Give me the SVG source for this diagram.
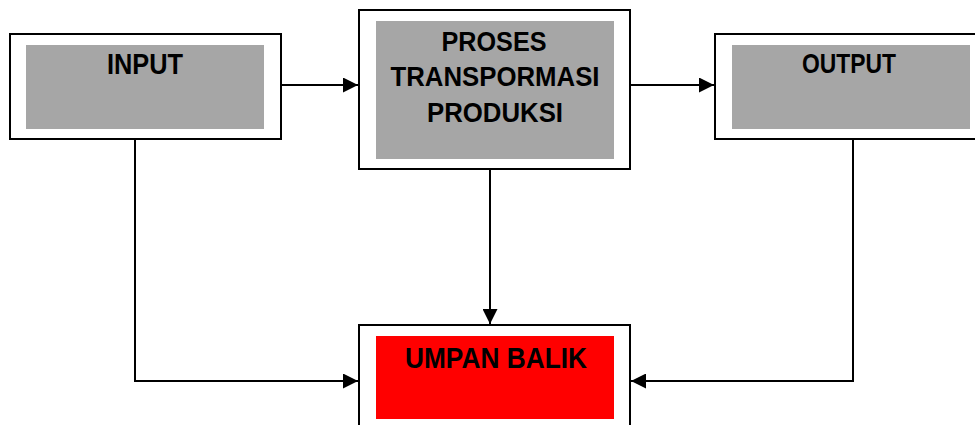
<svg xmlns="http://www.w3.org/2000/svg" width="975" height="425" viewBox="0 0 975 425">
  <style>
    .outer { fill: #ffffff; stroke: #000000; stroke-width: 2; }
    .gray { fill: #a6a6a6; }
    .red { fill: #ff0000; }
    .lbl { font-family: "Liberation Sans", Arial, sans-serif; font-weight: bold; fill: #000000; text-anchor: middle; }
    .conn { fill: none; stroke: #000000; stroke-width: 2; }
  </style>
  <defs>
    <marker id="arrow" markerUnits="userSpaceOnUse" markerWidth="15" markerHeight="15" refX="15" refY="7.5" orient="auto">
      <path d="M0,0 L15,7.5 L0,15 z" fill="#000000"/>
    </marker>
  </defs>
  <rect x="0" y="0" width="975" height="425" fill="#ffffff"/>

  <g id="input">
    <rect class="outer" x="10" y="34" width="271" height="105"/>
    <rect class="gray" x="26" y="45" width="238" height="84"/>
    <text class="lbl" x="145" y="74" font-size="29" textLength="76" lengthAdjust="spacingAndGlyphs">INPUT</text>
  </g>

  <g id="proses">
    <rect class="outer" x="359" y="10" width="271" height="159"/>
    <rect class="gray" x="376" y="21" width="238" height="138"/>
    <text class="lbl" x="494" y="51" font-size="27" textLength="105" lengthAdjust="spacingAndGlyphs">PROSES</text>
    <text class="lbl" x="495" y="86" font-size="27" textLength="209" lengthAdjust="spacingAndGlyphs">TRANSPORMASI</text>
    <text class="lbl" x="495" y="122" font-size="27" textLength="136" lengthAdjust="spacingAndGlyphs">PRODUKSI</text>
  </g>

  <g id="output">
    <rect class="outer" x="715" y="34" width="275" height="105"/>
    <rect class="gray" x="732" y="45" width="238" height="84"/>
    <text class="lbl" x="849" y="73" font-size="28" textLength="94" lengthAdjust="spacingAndGlyphs">OUTPUT</text>
  </g>

  <g id="umpan-balik">
    <rect class="outer" x="359" y="325" width="271" height="120"/>
    <rect class="red" x="376" y="336" width="238" height="83"/>
    <text class="lbl" x="496" y="368" font-size="30" textLength="182" lengthAdjust="spacingAndGlyphs">UMPAN BALIK</text>
  </g>

  <g id="connectors">
    <line class="conn" x1="281" y1="85" x2="358" y2="85" marker-end="url(#arrow)"/>
    <line class="conn" x1="630" y1="85" x2="714" y2="85" marker-end="url(#arrow)"/>
    <line class="conn" x1="490" y1="169" x2="490" y2="324" marker-end="url(#arrow)"/>
    <polyline class="conn" points="135,139 135,381 358,381" marker-end="url(#arrow)"/>
    <polyline class="conn" points="853,139 853,381 631,381" marker-end="url(#arrow)"/>
  </g>
</svg>
